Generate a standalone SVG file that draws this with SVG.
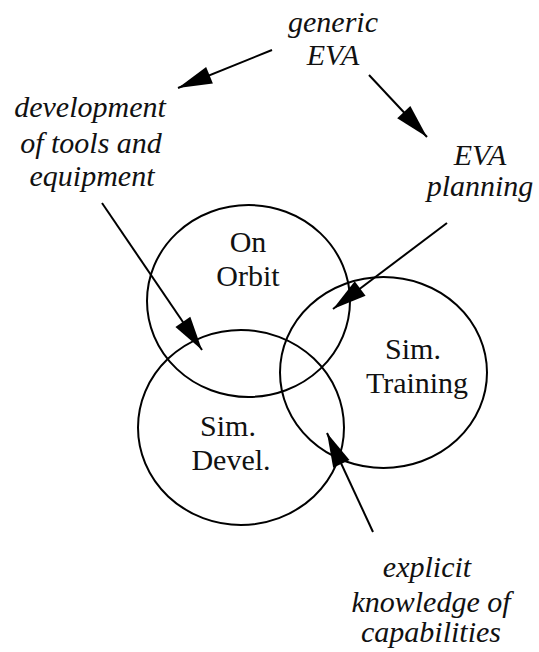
<svg xmlns="http://www.w3.org/2000/svg" width="539" height="652" viewBox="0 0 539 652">
<defs>
<marker id="ah" markerUnits="userSpaceOnUse" markerWidth="40" markerHeight="22" viewBox="-36 -11 40 22" refX="0" refY="0" orient="auto">
<path d="M0,0 L-34,-9 L-34,9 Z" fill="#000"/>
</marker>
</defs>
<rect x="0" y="0" width="539" height="652" fill="#fff"/>
<g id="onorbit">
<ellipse cx="248.5" cy="301" rx="101.5" ry="96" fill="none" stroke="#000" stroke-width="2"/>
<text x="248" y="252" style="font-family:'Liberation Serif',serif !important" font-family="Liberation Serif" font-size="30" text-anchor="middle" fill="#111">On</text>
<text x="248" y="286" style="font-family:'Liberation Serif',serif !important" font-family="Liberation Serif" font-size="30" text-anchor="middle" fill="#111">Orbit</text>
</g>
<g id="simtraining">
<ellipse cx="383.5" cy="372.5" rx="103.5" ry="95.5" fill="none" stroke="#000" stroke-width="2"/>
<text x="413" y="359" style="font-family:'Liberation Serif',serif !important" font-family="Liberation Serif" font-size="30" text-anchor="middle" fill="#111">Sim.</text>
<text x="417" y="393" style="font-family:'Liberation Serif',serif !important" font-family="Liberation Serif" font-size="30" text-anchor="middle" fill="#111">Training</text>
</g>
<g id="simdevel">
<ellipse cx="241" cy="427.5" rx="103" ry="97.5" fill="none" stroke="#000" stroke-width="2"/>
<text x="228" y="436" style="font-family:'Liberation Serif',serif !important" font-family="Liberation Serif" font-size="30" text-anchor="middle" fill="#111">Sim.</text>
<text x="231" y="470" style="font-family:'Liberation Serif',serif !important" font-family="Liberation Serif" font-size="30" text-anchor="middle" fill="#111">Devel.</text>
</g>
<g id="genericEVA">
<text x="333" y="32" style="font-family:'Liberation Serif',serif !important" font-family="Liberation Serif" font-style="italic" font-size="30" text-anchor="middle" fill="#111">generic</text>
<text x="333" y="65" style="font-family:'Liberation Serif',serif !important" font-family="Liberation Serif" font-style="italic" font-size="30" text-anchor="middle" fill="#111">EVA</text>
</g>
<g id="development">
<text x="90" y="117" style="font-family:'Liberation Serif',serif !important" font-family="Liberation Serif" font-style="italic" font-size="30" text-anchor="middle" fill="#111">development</text>
<text x="91" y="153" style="font-family:'Liberation Serif',serif !important" font-family="Liberation Serif" font-style="italic" font-size="30" text-anchor="middle" fill="#111">of tools and</text>
<text x="92" y="186" style="font-family:'Liberation Serif',serif !important" font-family="Liberation Serif" font-style="italic" font-size="30" text-anchor="middle" fill="#111">equipment</text>
</g>
<g id="planning">
<text x="480" y="165" style="font-family:'Liberation Serif',serif !important" font-family="Liberation Serif" font-style="italic" font-size="30" text-anchor="middle" fill="#111">EVA</text>
<text x="480" y="196" style="font-family:'Liberation Serif',serif !important" font-family="Liberation Serif" font-style="italic" font-size="30" text-anchor="middle" fill="#111">planning</text>
</g>
<g id="explicit">
<text x="427" y="577" style="font-family:'Liberation Serif',serif !important" font-family="Liberation Serif" font-style="italic" font-size="30" text-anchor="middle" fill="#111">explicit</text>
<text x="431" y="612" style="font-family:'Liberation Serif',serif !important" font-family="Liberation Serif" font-style="italic" font-size="30" text-anchor="middle" fill="#111">knowledge of</text>
<text x="431" y="642" style="font-family:'Liberation Serif',serif !important" font-family="Liberation Serif" font-style="italic" font-size="30" text-anchor="middle" fill="#111">capabilities</text>
</g>
<g id="connectors" stroke="#000" stroke-width="2" fill="none">
<line marker-end="url(#ah)" x1="272" y1="50" x2="178" y2="88"/>
<line marker-end="url(#ah)" x1="369" y1="75" x2="427" y2="137"/>
<line marker-end="url(#ah)" x1="102" y1="203" x2="202" y2="350"/>
<line marker-end="url(#ah)" x1="447" y1="223" x2="333" y2="309"/>
<line marker-end="url(#ah)" x1="373" y1="532" x2="327" y2="433"/>
</g>
</svg>
